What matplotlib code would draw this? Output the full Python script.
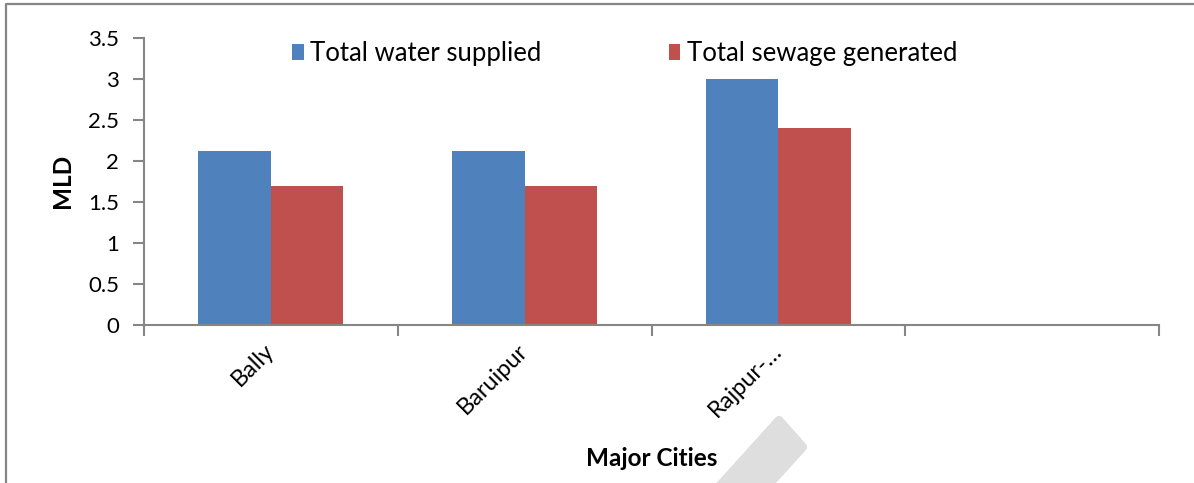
import matplotlib
matplotlib.use("Agg")
import matplotlib.pyplot as plt
from matplotlib.lines import Line2D
from matplotlib.patches import Polygon
import numpy as np

plt.rcParams['font.family'] = ['Lato', 'DejaVu Sans']

cities = ["Bally", "Baruipur", "Rajpur-\u2026", ""]
water_supplied = [2.12, 2.12, 3.0]
sewage_generated = [1.7, 1.7, 2.4]
series_names = ["Total water supplied", "Total sewage generated"]
colors = ["#4F81BD", "#C0504D"]
y_ticks = [0, 0.5, 1, 1.5, 2, 2.5, 3, 3.5]

W, H, DPI = 1194, 483, 100
fig = plt.figure(figsize=(W / DPI, H / DPI), dpi=DPI)

# axes placement in pixel terms
left_px, right_px, top_px, bottom_px = 144, 1159, 38, 325
ax = fig.add_axes([left_px / W, 1 - bottom_px / H,
                   (right_px - left_px) / W, (bottom_px - top_px) / H])

gray = "#868686"
bar_w = 0.286
x = np.arange(len(water_supplied))
ax.bar(x - bar_w / 2, water_supplied, width=bar_w, color=colors[0],
       label=series_names[0], zorder=2)
ax.bar(x + bar_w / 2, sewage_generated, width=bar_w, color=colors[1],
       label=series_names[1], zorder=2)

ax.set_xlim(-0.5, len(cities) - 0.5)
ax.set_ylim(0, 3.5)
ax.set_yticks(y_ticks)
ax.set_yticklabels([f"{t:g}" for t in y_ticks], fontsize=16)

# category separators as major ticks, names on minor ticks at slot centres
ax.set_xticks(np.arange(len(cities) + 1) - 0.5)
ax.set_xticklabels([])
ax.set_xticks(np.arange(len(cities)), minor=True)
ax.set_xticklabels(cities, minor=True, rotation=45, ha="right",
                   va="center", rotation_mode="anchor", fontsize=17)
ax.tick_params(axis="x", which="major", length=8, width=1.5, color=gray,
               direction="out")
ax.tick_params(axis="x", which="minor", length=0, pad=16)
ax.tick_params(axis="y", length=8, width=1.5, color=gray, pad=10,
               direction="out")

for side in ("top", "right"):
    ax.spines[side].set_visible(False)
for side in ("left", "bottom"):
    ax.spines[side].set_color(gray)
    ax.spines[side].set_linewidth(1.5)

fig.text(62 / W, 1 - 181 / H, "MLD", rotation=90, ha="center", va="center",
         fontsize=17.5, fontweight="bold")
fig.text(652 / W, 1 - 458 / H, "Major Cities", ha="center", va="center",
         fontsize=17.5, fontweight="bold")

leg = ax.legend(ncol=2, frameon=False, fontsize=18.5,
                loc="upper left",
                bbox_to_anchor=(292 / W, 1 - 41 / H),
                bbox_transform=fig.transFigure,
                handlelength=0.45, handleheight=0.58, handletextpad=0.25,
                columnspacing=4.95, borderpad=0, borderaxespad=0)

# outer chart frame (top and left edges)
fig.add_artist(Line2D([6 / W, 6 / W, 1.0], [0.0, 1 - 4 / H, 1 - 4 / H],
                      transform=fig.transFigure, color=gray, linewidth=1.6))

# light grey diagonal band near the bottom
pts_px = [(779, 420), (803, 447), (737, 520), (713, 493)]
band = Polygon([(px / W, 1 - py / H) for px, py in pts_px], closed=True,
               transform=fig.transFigure, facecolor="#DEDEDE",
               edgecolor="#DEDEDE", linewidth=6, joinstyle="round", zorder=0)
fig.add_artist(band)

fig.savefig("out.png", dpi=DPI)
